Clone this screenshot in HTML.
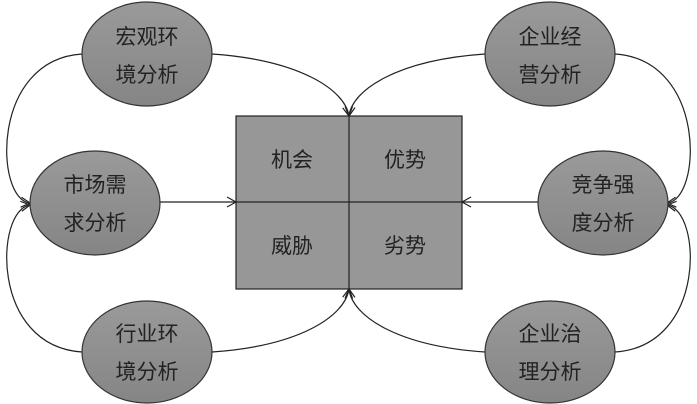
<!DOCTYPE html><html><head><meta charset="utf-8"><style>body{margin:0;background:#fff}svg{display:block}text{font-family:"Liberation Sans","Noto Sans CJK SC",sans-serif;font-size:21px;fill:#222;text-anchor:middle}</style></head><body>
<svg width="697" height="404" viewBox="0 0 697 404">
<defs><linearGradient id="g" x1="0" y1="0" x2="0" y2="1"><stop offset="0" stop-color="#9a9a9a"/><stop offset="1" stop-color="#858585"/></linearGradient>
<marker id="a" markerWidth="12" markerHeight="12" refX="10" refY="6" orient="auto" markerUnits="userSpaceOnUse"><path d="M1,1 L10,6 L1,11" fill="none" stroke="#222" stroke-width="1.2"/></marker></defs>
<g fill="none" stroke="#222" stroke-width="1.2">
<path d="M82,54 C-10,60 -5,200 30,203" marker-end="url(#a)"/>
<path d="M212,54 C300,60 345,90 349,116" marker-end="url(#a)"/>
<path d="M82,352 C-10,346 -5,210 30,205" marker-end="url(#a)"/>
<path d="M212,352 C300,346 345,316 349,289" marker-end="url(#a)"/>
<path d="M615,54 C707,60 702,200 667,203" marker-end="url(#a)"/>
<path d="M485,54 C397,60 352,90 349,116" marker-end="url(#a)"/>
<path d="M615,352 C707,346 702,210 667,205" marker-end="url(#a)"/>
<path d="M485,352 C397,346 352,316 349,289" marker-end="url(#a)"/>
<path d="M160,202 L236,202" marker-end="url(#a)"/>
<path d="M538,202 L462,202" marker-end="url(#a)"/>
</g>
<rect x="236" y="116" width="226" height="173" fill="#979797" stroke="#222" stroke-width="1.2"/>
<path d="M349,116V289M236,202H462" stroke="#222" stroke-width="1.2"/>
<text x="292" y="167">机会</text><text x="405" y="167">优势</text>
<text x="292" y="253">威胁</text><text x="405" y="253">劣势</text>
<g stroke="#333" stroke-width="1.2" fill="url(#g)">
<ellipse cx="147" cy="54" rx="65" ry="52"/><ellipse cx="95" cy="203" rx="65" ry="52"/><ellipse cx="147" cy="352" rx="65" ry="51"/>
<ellipse cx="550" cy="54" rx="65" ry="52"/><ellipse cx="603" cy="203" rx="65" ry="52"/><ellipse cx="550" cy="352" rx="65" ry="51"/>
</g>
<text x="147" y="44">宏观环</text><text x="147" y="82">境分析</text>
<text x="95" y="192">市场需</text><text x="95" y="230">求分析</text>
<text x="147" y="341">行业环</text><text x="147" y="379">境分析</text>
<text x="550" y="44">企业经</text><text x="550" y="82">营分析</text>
<text x="603" y="192">竞争强</text><text x="603" y="230">度分析</text>
<text x="550" y="341">企业治</text><text x="550" y="379">理分析</text>
</svg></body></html>
